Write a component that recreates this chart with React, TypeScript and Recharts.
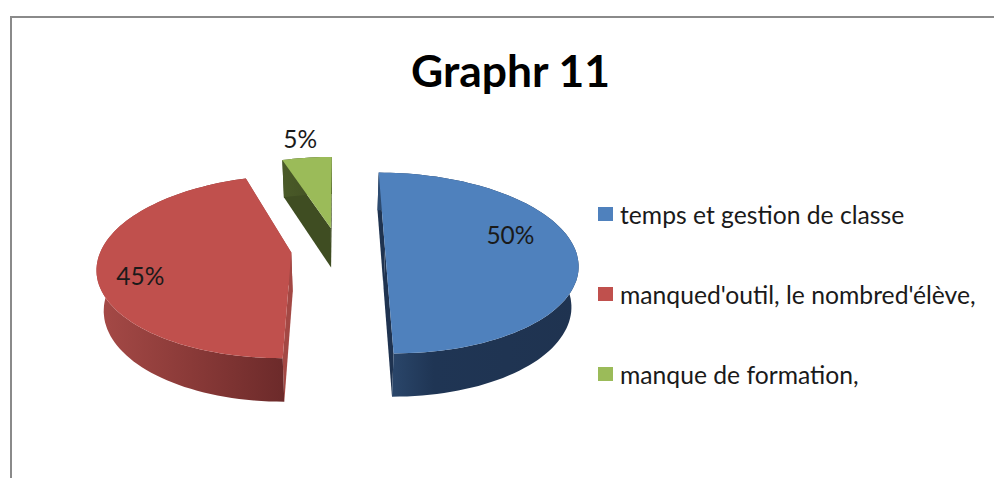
import React from 'react';
import { PieChart, Pie, Legend } from 'recharts';

const categories = ['temps et gestion de classe', "manqued'outil, le nombred'élève,", 'manque de formation,'];
const values = [50, 45, 5];
const colors = ['#4F81BD', '#C0504D', '#9BBB59'];

const data = categories.map((name, i) => ({ name, value: values[i], fill: colors[i] }));

// fake 3D: slices sit on a ground plane seen in perspective
const EXPLODE = 47;
const CAMERA = 569;
const PERSPECTIVE = 0.000816;
const BOTTOM_SHRINK = 0.97;

const wallColors = ['#1F3350', '#A34844', '#3F4D22'];
const rimStops = [
  [['0%', '#2E4C72'], ['28%', '#1F3554'], ['100%', '#1F3350']],
  [['0%', '#A64A47'], ['50%', '#8A3A38'], ['100%', '#6C2A2A']],
  [['0%', '#4A5A28'], ['100%', '#3F4D22']],
];
// where each percent sits, relative to the slice middle
const labelPlace = [
  { frac: 0.705, turn: -14 },
  { frac: 0.79, turn: -9.5 },
  { frac: 1.33, turn: 0 },
];

const rad = (d: number) => (d * Math.PI) / 180;

const project = (cx: number, cy: number, x: number, y: number) => {
  const s = 1 / (1 + PERSPECTIVE * y);
  return { x: cx + x * s, y: cy - CAMERA + CAMERA * s, s };
};

const lower = (cx: number, p: { x: number; y: number; s: number }) => ({
  x: cx + (p.x - cx) * BOTTOM_SHRINK,
  y: p.y + 22 + 18 * p.s,
  s: p.s,
});

const toPath = (pts: { x: number; y: number }[]) =>
  'M' + pts.map((p) => `${p.x.toFixed(1)} ${p.y.toFixed(1)}`).join('L') + 'Z';

const Slice3D = (props: any) => {
  const { cx, cy, outerRadius, startAngle, endAngle, fill, index } = props;
  // recharts angles to clockwise from the top
  const a0 = 90 - startAngle;
  const a1 = 90 - endAngle;
  const mid = (a0 + a1) / 2;
  const ox = EXPLODE * Math.sin(rad(mid));
  const oy = EXPLODE * Math.cos(rad(mid));

  const apex = project(cx, cy, ox, oy);
  const rim = [];
  for (let a = a0; a < a1; a += 2) {
    rim.push(project(cx, cy, ox + outerRadius * Math.sin(rad(a)), oy + outerRadius * Math.cos(rad(a))));
  }
  rim.push(project(cx, cy, ox + outerRadius * Math.sin(rad(a1)), oy + outerRadius * Math.cos(rad(a1))));

  const apexLow = lower(cx, apex);
  const rimLow = rim.map((p) => lower(cx, p));
  const first = rim[0];
  const last = rim[rim.length - 1];
  const gradId = `rim-${index}`;

  return (
    <g>
      <defs>
        <linearGradient id={gradId} x1="0" y1="0" x2="1" y2="0">
          {rimStops[index].map(([o, c]) => (
            <stop key={o} offset={o} stopColor={c} />
          ))}
        </linearGradient>
      </defs>
      <path d={toPath([apex, first, rimLow[0], apexLow])} fill={wallColors[index]} />
      <path d={toPath([apex, last, rimLow[rimLow.length - 1], apexLow])} fill={wallColors[index]} />
      <path d={toPath([...rim, ...[...rimLow].reverse()])} fill={`url(#${gradId})`} />
      <path d={toPath([apex, ...rim])} fill={fill} />
    </g>
  );
};

const renderPercent = (props: any) => {
  const { cx, cy, midAngle, outerRadius, percent, index } = props;
  const mid = 90 - midAngle;
  const ox = EXPLODE * Math.sin(rad(mid));
  const oy = EXPLODE * Math.cos(rad(mid));
  const place = labelPlace[index];
  const a = rad(mid + place.turn);
  const p = project(cx, cy, ox + outerRadius * place.frac * Math.sin(a), oy + outerRadius * place.frac * Math.cos(a));
  return (
    <text x={p.x} y={p.y} textAnchor="middle" dominantBaseline="central" fontSize={24.5} fill="#1a1a1a">
      {`${Math.round(percent * 100)}%`}
    </text>
  );
};

const renderLegend = (props: any) => (
  <div>
    {props.payload.map((entry: any) => (
      <div key={entry.value} style={{ display: 'flex', alignItems: 'center', height: 80 }}>
        <span style={{ width: 15, height: 14, background: entry.color, marginRight: 7, flex: 'none' }} />
        <span style={{ fontSize: 24.7, color: '#1a1a1a', whiteSpace: 'nowrap' }}>{entry.value}</span>
      </div>
    ))}
  </div>
);

export default function App() {
  return (
    <div style={{ position: 'absolute', left: 0, top: 0, width: 994, height: 478, overflow: 'hidden', background: '#fff', fontFamily: 'Lato, sans-serif' }}>
      <div style={{ position: 'absolute', left: 10, top: 16, right: 0, bottom: 0, borderTop: '2px solid #8a8a8a', borderLeft: '2px solid #8a8a8a' }} />
      <PieChart width={994} height={478} margin={{ top: 0, right: 0, bottom: 0, left: 0 }}>
        <text x={510.5} y={69} textAnchor="middle" dominantBaseline="central" fontSize={44.4} fontWeight={700} fill="#000">
          Graphr 11
        </text>
        <Legend
          layout="vertical"
          content={renderLegend}
          itemSorter={null}
          wrapperStyle={{ position: 'absolute', left: 598, top: 174, width: 390 }}
        />
        <Pie
          data={data}
          dataKey="value"
          nameKey="name"
          cx={338}
          cy={249}
          outerRadius={190}
          startAngle={90}
          endAngle={-270}
          stroke="none"
          shape={Slice3D}
          label={renderPercent}
          labelLine={false}
          isAnimationActive={false}
        />
      </PieChart>
    </div>
  );
}
